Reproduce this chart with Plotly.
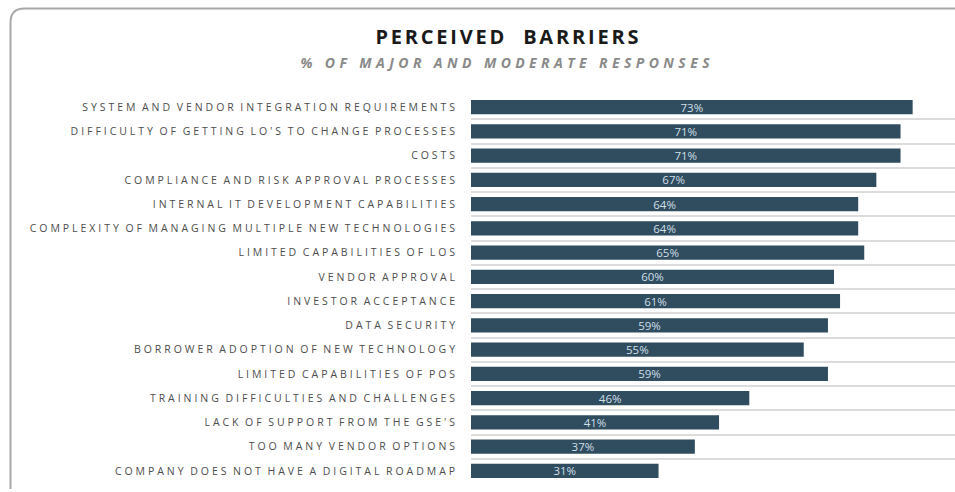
import plotly.graph_objects as go

# Barriers, listed top to bottom as they appear in the chart
barriers = [
    "SYSTEM AND VENDOR INTEGRATION REQUIREMENTS",
    "DIFFICULTY OF GETTING LO'S TO CHANGE PROCESSES",
    "COSTS",
    "COMPLIANCE AND RISK APPROVAL PROCESSES",
    "INTERNAL IT DEVELOPMENT CAPABILITIES",
    "COMPLEXITY OF MANAGING MULTIPLE NEW TECHNOLOGIES",
    "LIMITED CAPABILITIES OF LOS",
    "VENDOR APPROVAL",
    "INVESTOR ACCEPTANCE",
    "DATA SECURITY",
    "BORROWER ADOPTION OF NEW TECHNOLOGY",
    "LIMITED CAPABILITIES OF POS",
    "TRAINING DIFFICULTIES AND CHALLENGES",
    "LACK OF SUPPORT FROM THE GSE'S",
    "TOO MANY VENDOR OPTIONS",
    "COMPANY DOES NOT HAVE A DIGITAL ROADMAP",
]
pct = [73, 71, 71, 67, 64, 64, 65, 60, 61, 59, 55, 59, 46, 41, 37, 31]

W, H = 955, 492
ML, MR, MT, MB = 471, 0, 95, 9
PW, PH = W - ML - MR, H - MT - MB

BAR = "#2f4d5e"
GRID = "#dcdcdc"
LABEL = "#4d4d4d"


def px_x(x):
    return (x - ML) / PW


def px_y(y):
    return (H - MB - y) / PH


fig = go.Figure(
    go.Bar(
        x=pct,
        y=barriers,
        orientation="h",
        marker=dict(color=BAR, line=dict(width=0)),
        text=[f"{v}%" for v in pct],
        textposition="inside",
        insidetextanchor="middle",
        textangle=0,
        constraintext="none",
        textfont=dict(family="Open Sans", size=11.5, color="#cfdfe8"),
        cliponaxis=False,
        hoverinfo="skip",
    )
)

# rounded card outline (top and left edges visible)
r = 14
x0, y0, y1 = 10.5, 8.5, 489
path = (
    f"M {px_x(x0)},{px_y(y1)} L {px_x(x0)},{px_y(y0 + r)} "
    f"Q {px_x(x0)},{px_y(y0)} {px_x(x0 + r)},{px_y(y0)} "
    f"L {px_x(W + 5)},{px_y(y0)}"
)
fig.add_shape(type="path", path=path, xref="paper", yref="paper",
              line=dict(color="#a8a8a8", width=2), layer="below")

fig.add_annotation(text="<b>PERCEIVED  BARRIERS</b>", x=px_x(508), y=px_y(36),
                   xref="paper", yref="paper", xanchor="center", yanchor="middle",
                   showarrow=False,
                   font=dict(family="Open Sans", size=20, color="#1a1a1a"))
fig.add_annotation(text="<b><i>% OF MAJOR AND MODERATE RESPONSES</i></b>",
                   x=px_x(507), y=px_y(62), xref="paper", yref="paper",
                   xanchor="center", yanchor="middle", showarrow=False,
                   font=dict(family="Open Sans", size=14, color="#8a8a8a"))

fig.update_layout(
    width=W, height=H,
    margin=dict(l=ML, r=MR, t=MT, b=MB, pad=0),
    paper_bgcolor="white", plot_bgcolor="white",
    bargap=0.42,
    showlegend=False,
    xaxis=dict(range=[0, 80], visible=False, fixedrange=True),
    yaxis=dict(
        autorange="reversed",
        tickson="boundaries",
        showgrid=True, gridcolor=GRID, gridwidth=2,
        ticks="", ticklabelstandoff=12,
        tickfont=dict(family="Open Sans", size=10.5, color=LABEL),
        showline=False, zeroline=False, fixedrange=True,
    ),
)

# widen letter spacing of the category labels and headings
post = """
var gd = document.getElementById('{plot_id}');
function spacing(){
  gd.querySelectorAll('.ytick text').forEach(function(t){
    t.style.letterSpacing='2.95px'; t.style.wordSpacing='-2px';
  });
  var a = gd.querySelectorAll('.annotation-text');
  if (a[0]) a[0].style.letterSpacing='2.8px';
  if (a[1]) a[1].style.letterSpacing='4.4px';
}
spacing();
gd.on('plotly_afterplot', spacing);
"""

fig.write_html("out.html", post_script=post, config={"displayModeBar": False})
